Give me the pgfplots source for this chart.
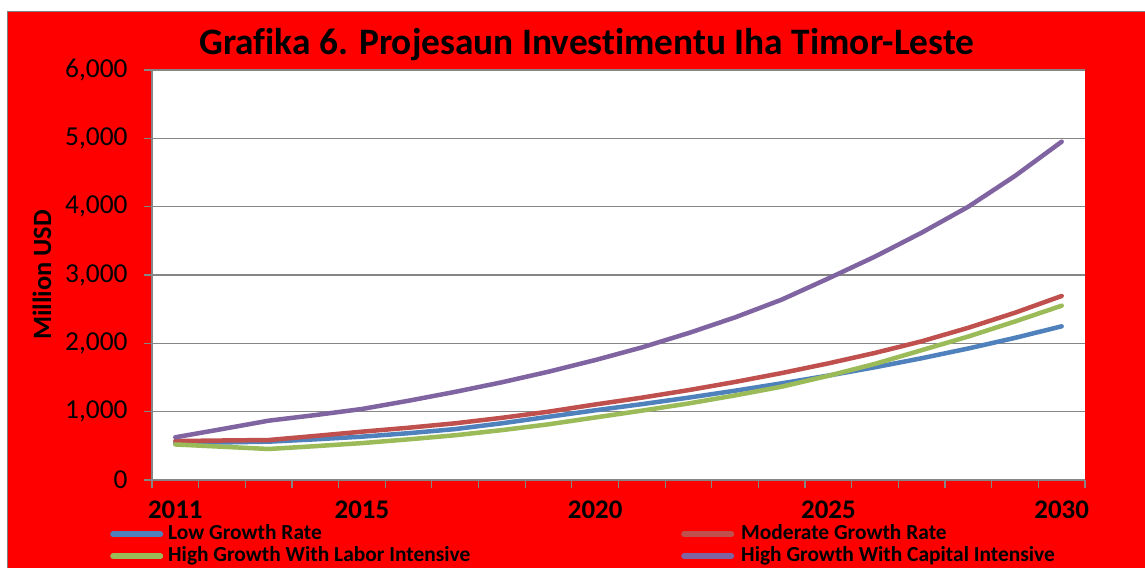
\documentclass[border=0pt]{standalone}
\usepackage{pgfplots}
\pgfplotsset{compat=1.18}
\usepackage{fontspec}
\setmainfont{Carlito}[Ligatures=NoCommon]
\definecolor{xlblue}{HTML}{4F81BD}
\definecolor{xlred}{HTML}{C0504D}
\definecolor{xlgreen}{HTML}{9BBB59}
\definecolor{xlpurple}{HTML}{8064A2}
\definecolor{bgred}{HTML}{FF0000}
\definecolor{gridgray}{HTML}{868686}
\begin{document}
\begin{tikzpicture}
\useasboundingbox (0,0) rectangle (1145bp,568bp);
\fill[white] (0,0) rectangle (1145bp,568bp);
\fill[bgred] (7bp,0) rectangle (1145bp,556bp);
\draw[gray, line width=1bp] (7bp,0) -- (7bp,556bp) -- (1145bp,556bp);
\begin{axis}[
  at={(152bp,88bp)}, anchor=south west,
  scale only axis, width=933bp, height=410bp,
  xmin=2010.5, xmax=2030.5, ymin=0, ymax=6000,
  axis background/.style={fill=white},
  axis x line*=bottom, axis y line*=left,
  axis line style={gridgray, line width=1.2bp, -},
  tick align=outside, major tick length=8bp,
  tick style={gridgray, line width=1.2bp},
  xtick={2010.5,2011.5,...,2030.5}, xticklabels={},
  extra x ticks={2011,2015,2020,2025,2030},
  extra x tick labels={2011,2015,2020,2025,2030},
  extra x tick style={major tick length=0pt, xmajorgrids=false,
     xticklabel style={font=\fontsize{27}{32}\selectfont\bfseries, inner sep=0pt, text depth=0pt, yshift=-21bp}},
  ytick={0,1000,...,6000},
  yticklabels={0,{1,000},{2,000},{3,000},{4,000},{5,000},{6,000}},
  yticklabel style={font=\fontsize{27.5}{32}\selectfont, xshift=-13bp},
  ymajorgrids, grid style={gridgray, line width=1.5bp},
  ylabel={Million USD},
  ylabel style={font=\fontsize{26.5}{30}\selectfont\bfseries, at={(axis description cs:-0.118,0.5)}, anchor=center},
  title={Grafika 6. Projesaun Investimentu Iha Timor-Leste},
  title style={font=\fontsize{37.5}{42}\selectfont\bfseries, at={(axis description cs:0.466,1)}, anchor=base, yshift=10bp},
  legend columns=2,
  legend cell align=left,
  legend style={at={(axis description cs:-0.045,-0.11)}, anchor=north west,
     draw=none, fill=none, inner sep=0pt,
     font=\fontsize{21.5}{24}\selectfont\bfseries,
     nodes={inner ysep=0bp, inner xsep=2bp, text height=14bp, text depth=4bp},
     row sep=4bp,
     /tikz/column 1/.style={column sep=3bp},
     /tikz/column 2/.style={column sep=209bp},
     /tikz/column 3/.style={column sep=5bp}},
  legend image code/.code={\draw[#1, line width=6bp, line cap=round] (0bp,0bp) -- (47bp,0bp);},
  every axis plot/.append style={line width=4.5bp, line cap=round, line join=round},
]
\addplot[xlblue] coordinates {(2011,540)(2012,550)(2013,561)(2014,595)(2015,634)(2016,685)(2017,745)(2018,830)(2019,925)(2020,1020)(2021,1110)(2022,1205)(2023,1307)(2024,1415)(2025,1528)(2026,1650)(2027,1782)(2028,1925)(2029,2080)(2030,2249)};
\addlegendentry{Low Growth Rate}
\addplot[xlred] coordinates {(2011,570)(2012,578)(2013,585)(2014,645)(2015,707)(2016,765)(2017,830)(2018,910)(2019,1000)(2020,1105)(2021,1205)(2022,1315)(2023,1435)(2024,1565)(2025,1707)(2026,1860)(2027,2030)(2028,2228)(2029,2448)(2030,2693)};
\addlegendentry{Moderate Growth Rate}
\addplot[xlgreen] coordinates {(2011,520)(2012,487)(2013,454)(2014,495)(2015,540)(2016,595)(2017,655)(2018,730)(2019,815)(2020,915)(2021,1015)(2022,1120)(2023,1238)(2024,1366)(2025,1525)(2026,1700)(2027,1900)(2028,2100)(2029,2320)(2030,2551)};
\addlegendentry{High Growth With Labor Intensive}
\addplot[xlpurple] coordinates {(2011,625)(2012,745)(2013,868)(2014,950)(2015,1039)(2016,1160)(2017,1290)(2018,1430)(2019,1585)(2020,1755)(2021,1940)(2022,2150)(2023,2380)(2024,2640)(2025,2950)(2026,3270)(2027,3620)(2028,4000)(2029,4450)(2030,4951)};
\addlegendentry{High Growth With Capital Intensive}
\end{axis}
\end{tikzpicture}
\end{document}
